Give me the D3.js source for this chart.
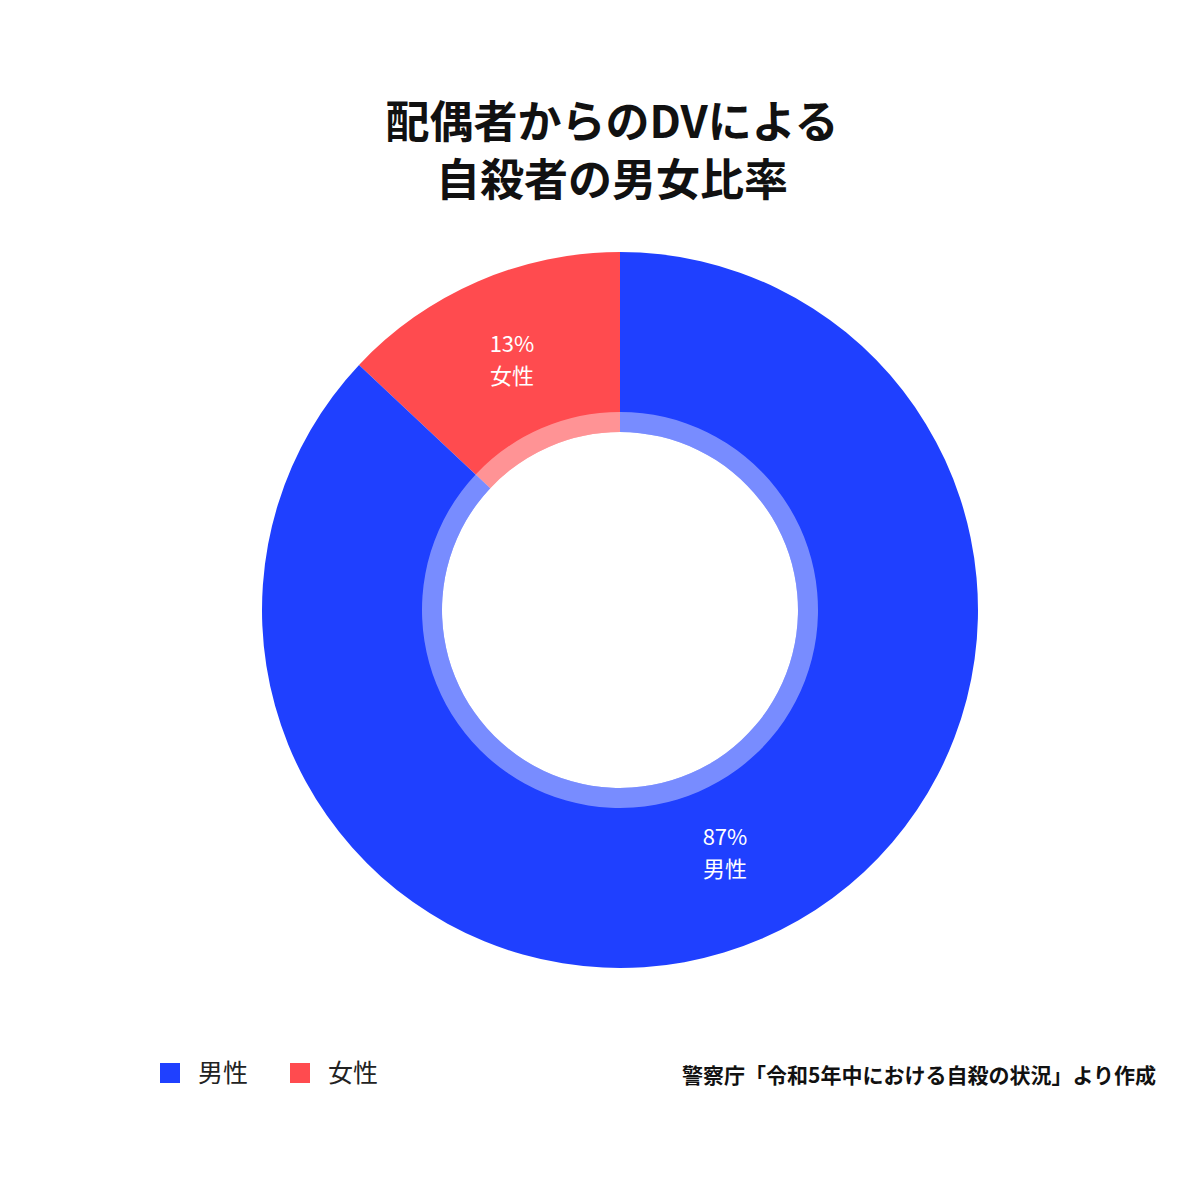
<!DOCTYPE html>
<html><head><meta charset="utf-8">
<script src="https://cdn.jsdelivr.net/npm/d3@7"></script>
<style>body{margin:0;background:#fff}svg{display:block}text{font-family:"Noto Sans CJK JP","Noto Sans",sans-serif}</style>
</head><body>
<script>
// data
var categories = ["女性", "男性"];
var values = [13, 87];
var colors = ["#ff4b4f", "#1f40ff"];
var legendOrder = ["男性", "女性"];
var titleLines = ["配偶者からのDVによる", "自殺者の男女比率"];
var source = "警察庁「令和5年中における自殺の状況」より作成";

var W = 1200, H = 1200, cx = 620, cy = 610;
var rOuter = 358, rInner = 178, rBand = 198;
var svg = d3.select("body").append("svg").attr("width", W).attr("height", H);

svg.selectAll(".title").data(titleLines).enter().append("text")
  .attr("x", 612).attr("y", function(d, i){ return 138 + i * 58; })
  .attr("text-anchor", "middle").attr("font-size", 44).attr("font-weight", 700)
  .attr("fill", "#111").text(function(d){ return d; });

var total = d3.sum(values);
var start = -2 * Math.PI * values[0] / total;
var pie = d3.pie().sort(null).value(function(d){ return d; })
  .startAngle(start).endAngle(start + 2 * Math.PI);
var arcs = pie(values);
var arc = d3.arc().innerRadius(rInner).outerRadius(rOuter);
var band = d3.arc().innerRadius(rInner).outerRadius(rBand);
var g = svg.append("g").attr("transform", "translate(" + cx + "," + cy + ")");
g.selectAll("path.s").data(arcs).enter().append("path").attr("class", "s")
  .attr("d", arc).attr("fill", function(d, i){ return colors[i]; });
g.selectAll("path.b").data(arcs).enter().append("path").attr("class", "b")
  .attr("d", band).attr("fill", "#fff").attr("opacity", 0.4);

var labelPos = [[-108, -258], [105, 235]];
arcs.forEach(function(d, i){
  var t = g.append("text").attr("text-anchor", "middle").attr("fill", "#fff").attr("font-size", 22);
  t.append("tspan").attr("x", labelPos[i][0]).attr("y", labelPos[i][1]).text(values[i] + "%");
  t.append("tspan").attr("x", labelPos[i][0]).attr("y", labelPos[i][1] + 32).text(categories[i]);
});

var leg = svg.append("g");
legendOrder.forEach(function(c, i){
  var x = 160 + i * 130;
  leg.append("rect").attr("x", x).attr("y", 1063).attr("width", 20).attr("height", 20)
    .attr("fill", colors[categories.indexOf(c)]);
  leg.append("text").attr("x", x + 38).attr("y", 1082).attr("font-size", 25).attr("fill", "#222").text(c);
});
svg.append("text").attr("x", 1156).attr("y", 1083).attr("text-anchor", "end")
  .attr("font-size", 21).attr("font-weight", 700).attr("fill", "#111").text(source);
</script>
</body></html>
